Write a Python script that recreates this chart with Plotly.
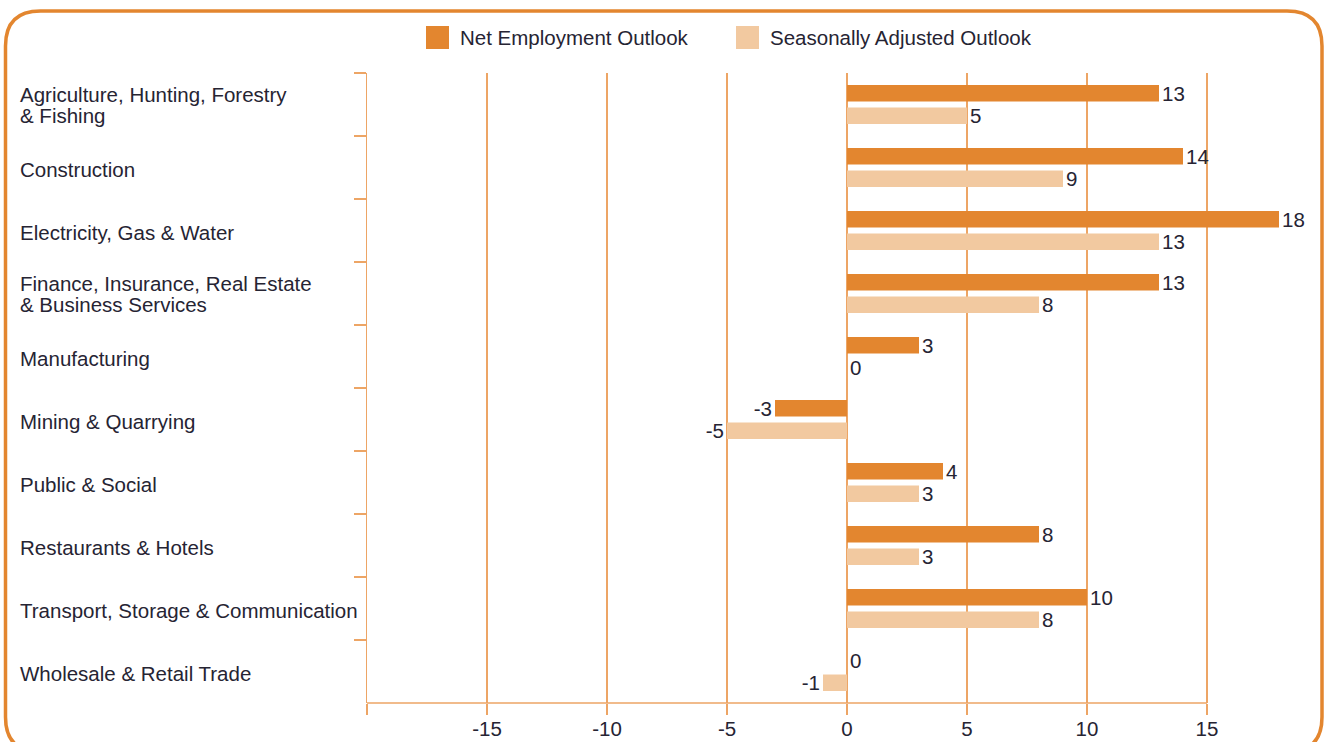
import plotly.graph_objects as go

categories = [
    "Agriculture, Hunting, Forestry<br>& Fishing",
    "Construction",
    "Electricity, Gas & Water",
    "Finance, Insurance, Real Estate<br>& Business Services",
    "Manufacturing",
    "Mining & Quarrying",
    "Public & Social",
    "Restaurants & Hotels",
    "Transport, Storage & Communication",
    "Wholesale & Retail Trade",
]
net_outlook = [13, 14, 18, 13, 3, -3, 4, 8, 10, 0]
seasonal_outlook = [5, 9, 13, 8, 0, -5, 3, 3, 8, -1]
x_tick_vals = [-20, -15, -10, -5, 0, 5, 10, 15]
x_tick_text = ["", "-15", "-10", "-5", "0", "5", "10", "15"]
series_names = ["Net Employment Outlook", "Seasonally Adjusted Outlook"]

NET_COLOR = "#E3862F"
SEAS_COLOR = "#F2C9A0"
GRID_COLOR = "#EDA565"
TEXT_COLOR = "#262433"
FONT = "Liberation Sans, Arial, sans-serif"
FS = 20.5

W, H = 1325, 742
L, R, T, B = 367, 34, 73, 39
PW = W - L - R
PH = H - T - B


def px(x):
    return (x - L) / PW


def py(y):
    return (H - B - y) / PH


fig = go.Figure()
fig.add_trace(go.Bar(
    y=categories, x=net_outlook, orientation="h", name=series_names[0],
    marker=dict(color=NET_COLOR, line=dict(width=0)),
    text=[str(v) for v in net_outlook], textposition="outside",
    textfont=dict(size=FS, color=TEXT_COLOR, family=FONT),
    cliponaxis=False, constraintext="none", showlegend=False,
))
fig.add_trace(go.Bar(
    y=categories, x=seasonal_outlook, orientation="h", name=series_names[1],
    marker=dict(color=SEAS_COLOR, line=dict(width=0)),
    text=[str(v) for v in seasonal_outlook], textposition="outside",
    textfont=dict(size=FS, color=TEXT_COLOR, family=FONT),
    cliponaxis=False, constraintext="none", showlegend=False,
))

annotations = []
# category labels, left aligned
for i, cat in enumerate(categories):
    lines = cat.split("<br>")
    n = len(lines)
    for j, line in enumerate(lines):
        off = (j - (n - 1) / 2) * 21
        annotations.append(dict(
            x=px(18), xref="paper", y=i, yref="y", text=line,
            xanchor="left", yanchor="middle", showarrow=False, align="left",
            yshift=-(off + (0 if n > 1 else 2)),
            font=dict(size=FS, color=TEXT_COLOR, family=FONT),
        ))

# manual legend
shapes = []
legend_items = [(426, series_names[0], NET_COLOR), (736, series_names[1], SEAS_COLOR)]
for x0, name, col in legend_items:
    shapes.append(dict(type="rect", xref="paper", yref="paper",
                       x0=px(x0), x1=px(x0 + 23), y0=py(49), y1=py(26),
                       fillcolor=col, line=dict(width=0)))
    annotations.append(dict(x=px(x0 + 32), xref="paper", y=py(37.5), yref="paper",
                            text=name, xanchor="left", yanchor="middle", showarrow=False,
                            font=dict(size=FS, color=TEXT_COLOR, family=FONT)))

# bottom axis line
shapes.append(dict(type="line", xref="x", yref="paper", x0=-20, x1=15, y0=0, y1=0,
                   line=dict(color=GRID_COLOR, width=1.5), layer="above"))

# rounded border
bl, br, bt, bb, rad = 5.5, 1322, 11, 752, 35
path = (
    f"M {px(bl)},{py(bt + rad)} "
    f"Q {px(bl)},{py(bt)} {px(bl + rad)},{py(bt)} "
    f"L {px(br - rad)},{py(bt)} "
    f"Q {px(br)},{py(bt)} {px(br)},{py(bt + rad)} "
    f"L {px(br)},{py(bb - rad)} "
    f"Q {px(br)},{py(bb)} {px(br - rad)},{py(bb)} "
    f"L {px(bl + rad)},{py(bb)} "
    f"Q {px(bl)},{py(bb)} {px(bl)},{py(bb - rad)} Z"
)
shapes.append(dict(type="path", xref="paper", yref="paper", path=path,
                   line=dict(color=NET_COLOR, width=3.5), fillcolor="rgba(0,0,0,0)"))

fig.update_layout(
    width=W, height=H, autosize=False,
    margin=dict(l=L, r=R, t=T, b=B, pad=0, autoexpand=False),
    paper_bgcolor="white", plot_bgcolor="white",
    barmode="group", bargap=0.286, bargroupgap=0.267,
    font=dict(family=FONT, size=FS, color=TEXT_COLOR),
    xaxis=dict(
        range=[-20, 18.5], tickvals=x_tick_vals, ticktext=x_tick_text,
        showgrid=True, gridcolor=GRID_COLOR, gridwidth=1.5,
        zeroline=False, showline=False, automargin=False,
        ticks="outside", ticklen=11, tickcolor=GRID_COLOR, tickwidth=1.5,
        ticklabelstandoff=-4,
        tickfont=dict(size=FS, color=TEXT_COLOR, family=FONT),
        fixedrange=True,
    ),
    yaxis=dict(
        range=[9.5, -0.5], showticklabels=False, showgrid=False, zeroline=False,
        showline=True, linecolor=GRID_COLOR, linewidth=1.5, automargin=False,
        ticks="outside", tickson="boundaries", ticklen=12,
        tickcolor=GRID_COLOR, tickwidth=1.5, fixedrange=True,
    ),
    shapes=shapes,
    annotations=annotations,
    showlegend=False,
)

fig.write_html(
    "out.html",
    config={"displayModeBar": False, "staticPlot": True},
    post_script="document.body.style.margin='0';document.body.style.overflow='hidden';",
)
